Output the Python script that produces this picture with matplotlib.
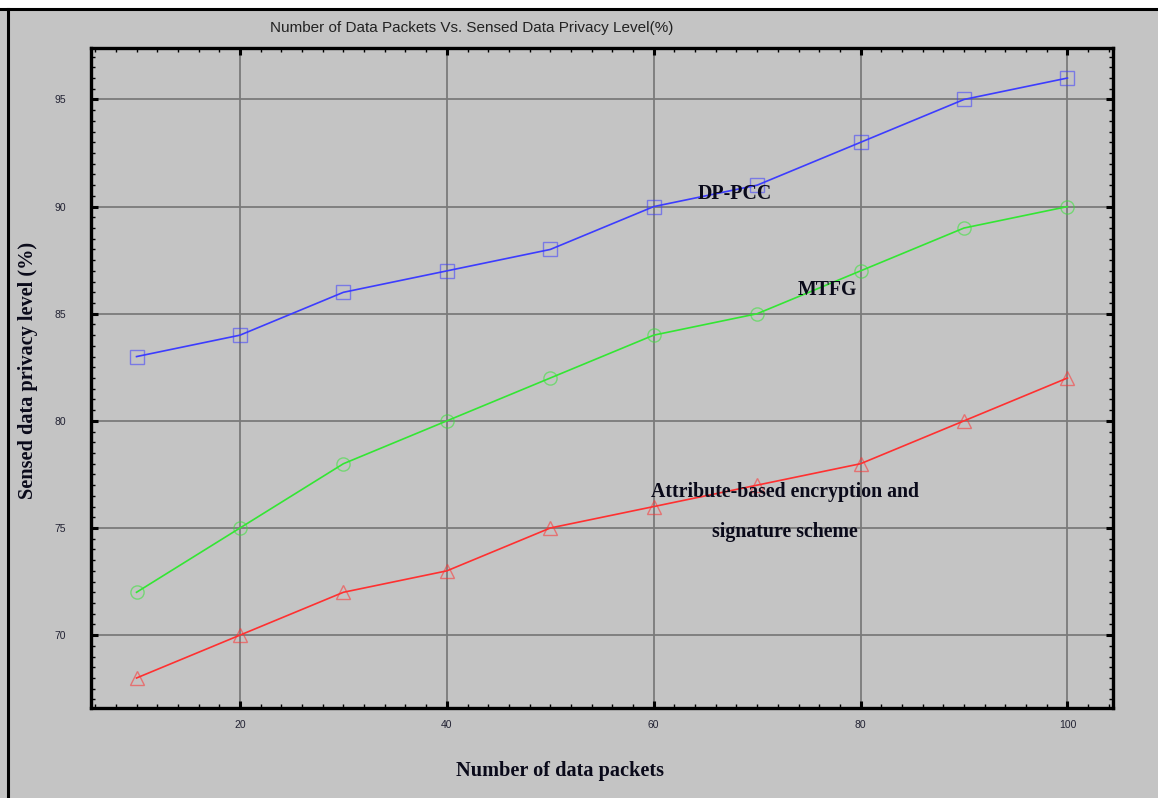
import matplotlib
matplotlib.use("Agg")
import matplotlib.pyplot as plt
from matplotlib.ticker import MultipleLocator
from matplotlib.lines import Line2D

# Number of data packets
packets = [10, 20, 30, 40, 50, 60, 70, 80, 90, 100]

# Sensed data privacy level (%) for each scheme
dp_pcc = [83, 84, 86, 87, 88, 90, 91, 93, 95, 96]
mtfg = [72, 75, 78, 80, 82, 84, 85, 87, 89, 90]
abe_sig = [68, 70, 72, 73, 75, 76, 77, 78, 80, 82]

x_ticks = [20, 40, 60, 80, 100]
y_ticks = [70, 75, 80, 85, 90, 95]

bg = "#c4c4c4"
serif = ["Liberation Serif", "DejaVu Serif"]
sans = ["Liberation Sans", "DejaVu Sans"]

fig = plt.figure(figsize=(11.58, 7.98), dpi=100, facecolor=bg)
ax = fig.add_axes([0.0786, 0.1128, 0.8825, 0.827], facecolor=bg)

# white strip and thin black frame at the top/left of the canvas
fig.patches.append(plt.Rectangle((0, 0.99), 1, 0.01, transform=fig.transFigure,
                                 facecolor="white", edgecolor="none", zorder=0))
fig.lines.append(Line2D([0, 1], [0.989, 0.989], transform=fig.transFigure,
                        color="black", lw=2.2))
fig.lines.append(Line2D([0.0065, 0.0065], [0, 0.989], transform=fig.transFigure,
                        color="black", lw=2.2))

series = [
    (dp_pcc, "#3c3cff", "s"),
    (mtfg, "#33e633", "o"),
    (abe_sig, "#ff3030", "^"),
]
for vals, col, mk in series:
    ax.plot(packets, vals, color=col, lw=1.2, zorder=3)
    ax.plot(packets, vals, linestyle="none", marker=mk, markersize=9.5,
            markerfacecolor="none", markeredgecolor=col, markeredgewidth=1.0,
            alpha=0.55, zorder=4)

ax.set_xlim(5.6, 104.4)
ax.set_ylim(66.6, 97.4)
ax.xaxis.set_major_locator(MultipleLocator(20))
ax.xaxis.set_minor_locator(MultipleLocator(2))
ax.yaxis.set_major_locator(MultipleLocator(5))
ax.yaxis.set_minor_locator(MultipleLocator(0.5))
ax.set_xticks(x_ticks)
ax.set_yticks(y_ticks)

ax.grid(True, which="major", color="#7a7a7a", lw=1.3, zorder=1)
for s in ax.spines.values():
    s.set_linewidth(2.4)
    s.set_color("black")

ax.tick_params(which="both", direction="in", top=True, right=True, color="black")
ax.tick_params(which="major", length=5, width=2.2, labelsize=7.5,
               labelcolor="#222233")
ax.tick_params(which="minor", length=3, width=1.0)
for lbl in ax.get_xticklabels() + ax.get_yticklabels():
    lbl.set_family(sans)
ax.tick_params(axis="y", pad=18)
ax.tick_params(axis="x", pad=9)

fig.text(0.4076, 0.965, "Number of Data Packets Vs. Sensed Data Privacy Level(%)",
         ha="center", va="center", fontsize=11, family=sans, color="#222222")

fig.text(0.4836, 0.034, "Number of data packets", ha="center", va="center",
         fontsize=14.6, fontweight="bold", family=serif, color="#0a0a1a")
fig.text(0.0242, 0.5363, "Sensed data privacy level (%)", ha="center", va="center",
         rotation=90, fontsize=14.6, fontweight="bold", family=serif, color="#0a0a1a")

# series names placed next to their curves
ann = dict(ha="center", va="center", fontsize=14.3, fontweight="bold",
           family=serif, color="#0a0a1a", zorder=5)
ax.text(67.8, 90.6, "DP-PCC", **ann)
ax.text(76.8, 86.1, "MTFG", **ann)
ax.text(72.7, 76.7, "Attribute-based encryption and", **ann)
ax.text(72.7, 74.8, "signature scheme", **ann)

fig.savefig("out.png", dpi=100, facecolor=bg)
